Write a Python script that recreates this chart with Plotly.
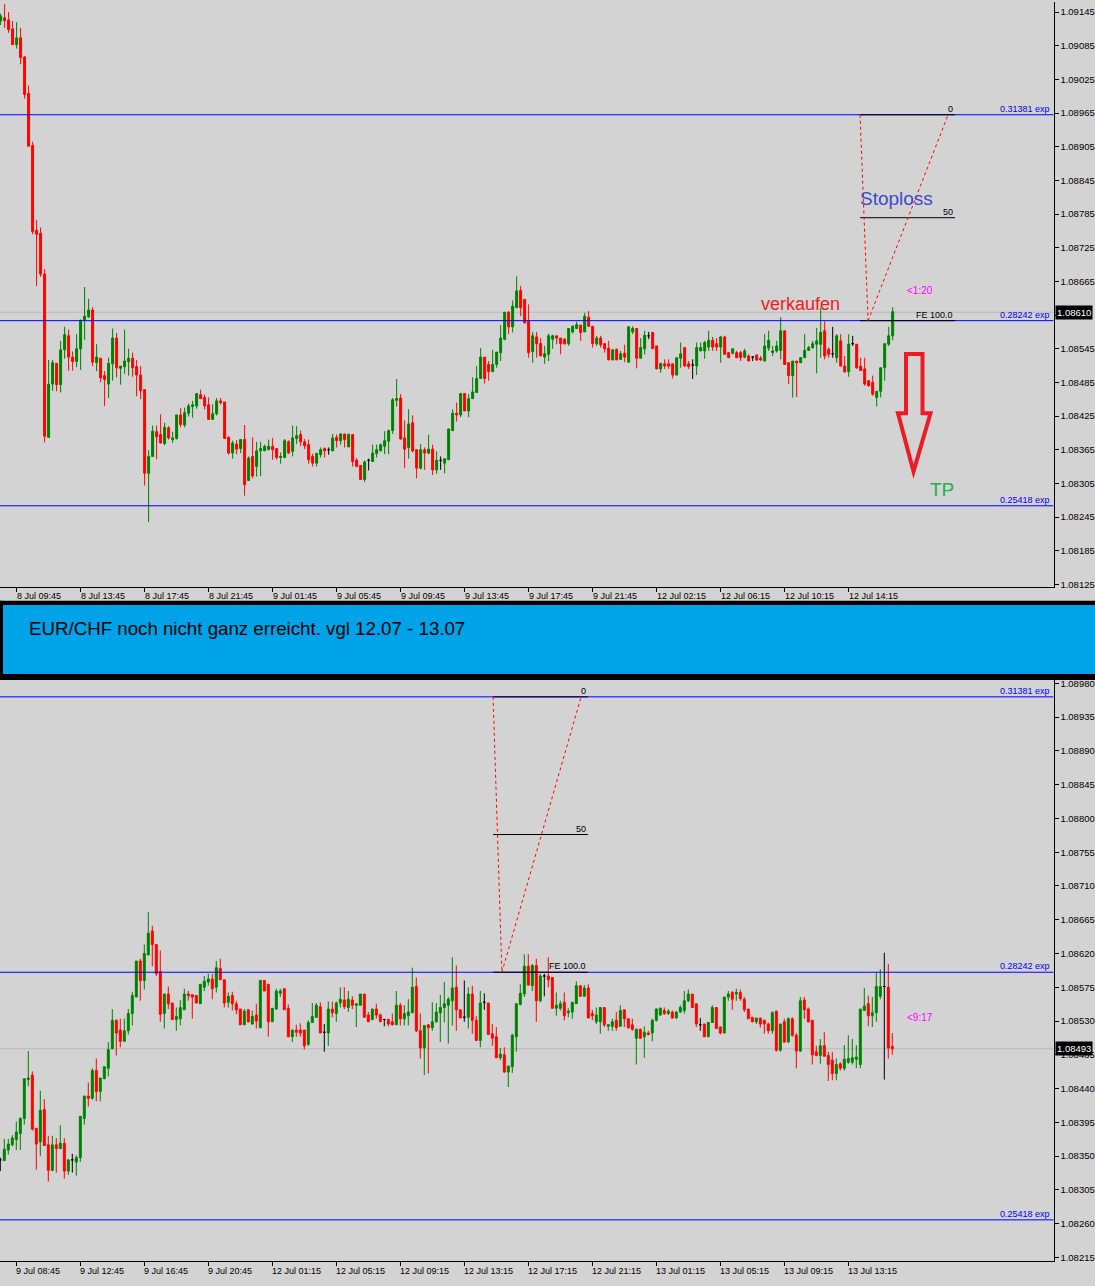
import plotly.graph_objects as go

W, H = 1095, 1286
BASE, PT = 1.08, 1e-5          # prices are stored in points (1e-5) above 1.08000
FONT = "Liberation Sans, Arial, sans-serif"

# ---------------- top chart: EUR/CHF M15 (8 Jul - 12 Jul) ----------------
TOP_OPEN = [
    1129, 1135, 1131, 1115, 1087, 1099, 1065, 1000, 907, 756, 751, 678, 387, 482, 519, 481,
    543, 568, 530, 522, 545, 596, 602, 614, 520, 528, 497, 482, 518, 564, 510, 513,
    522, 528, 513, 498, 472, 323, 353, 397, 392, 376, 404, 383, 385, 427, 409, 430,
    442, 443, 463, 458, 445, 419, 429, 452, 450, 387, 359, 375, 367, 383, 310, 353,
    335, 363, 363, 365, 371, 367, 351, 351, 379, 362, 385, 392, 379, 374, 353, 341,
    356, 367, 365, 363, 387, 381, 393, 370, 392, 346, 337, 312, 346, 344, 358, 363,
    371, 380, 399, 453, 457, 386, 369, 413, 365, 332, 365, 359, 366, 329, 346, 341,
    347, 399, 430, 427, 465, 434, 456, 467, 492, 530, 517, 504, 517, 538, 562, 610,
    584, 618, 649, 633, 594, 540, 566, 554, 530, 535, 562, 568, 564, 562, 554, 575,
    581, 587, 575, 601, 585, 554, 564, 554, 546, 525, 544, 526, 537, 521, 575, 581,
    528, 545, 568, 574, 550, 509, 518, 518, 518, 498, 528, 547, 518, 516, 514, 541,
    541, 548, 560, 554, 548, 566, 538, 537, 538, 538, 530, 532, 530, 534, 528, 523,
    546, 538, 541, 542, 577, 520, 497, 523, 520, 529, 542, 547, 553, 553, 577, 544,
    536, 529, 559, 514, 504, 554, 553, 514, 509, 488, 485, 458, 469, 511, 553, 568]
TOP_HIGH = [
    1142, 1159, 1145, 1129, 1127, 1117, 1067, 1014, 914, 774, 761, 687, 525, 525, 519, 559,
    584, 579, 540, 571, 596, 655, 634, 619, 553, 528, 505, 529, 581, 573, 514, 579,
    545, 538, 525, 514, 472, 364, 408, 408, 428, 413, 407, 397, 427, 439, 440, 447,
    452, 465, 472, 463, 458, 446, 457, 457, 450, 389, 381, 382, 383, 409, 353, 387,
    379, 379, 374, 383, 386, 367, 360, 384, 382, 408, 407, 399, 384, 383, 358, 360,
    369, 369, 369, 393, 392, 394, 393, 394, 392, 350, 337, 346, 349, 374, 374, 376,
    398, 401, 457, 491, 464, 417, 437, 426, 365, 375, 369, 392, 374, 362, 353, 349,
    402, 437, 449, 465, 465, 464, 494, 514, 546, 530, 523, 543, 539, 587, 610, 612,
    631, 674, 657, 633, 624, 575, 575, 564, 550, 572, 570, 568, 564, 564, 581, 587,
    593, 587, 609, 612, 585, 568, 568, 554, 559, 544, 545, 541, 552, 585, 585, 581,
    564, 577, 575, 575, 550, 519, 526, 526, 518, 530, 556, 547, 523, 526, 556, 556,
    559, 577, 566, 564, 568, 568, 538, 545, 541, 541, 545, 535, 532, 534, 532, 571,
    577, 550, 559, 601, 577, 520, 523, 523, 530, 571, 550, 559, 582, 618, 594, 547,
    584, 571, 571, 532, 571, 568, 553, 529, 529, 488, 497, 469, 511, 554, 584, 619]
TOP_LOW = [
    1122, 1117, 1108, 1087, 1080, 1052, 991, 906, 749, 657, 673, 378, 387, 470, 469, 467,
    527, 506, 506, 512, 507, 561, 600, 514, 505, 485, 443, 457, 488, 494, 481, 500,
    497, 495, 460, 455, 301, 236, 352, 348, 376, 373, 383, 377, 383, 405, 405, 424,
    422, 438, 456, 437, 419, 418, 426, 446, 384, 356, 349, 357, 359, 283, 310, 314,
    317, 318, 363, 365, 347, 347, 340, 351, 357, 353, 375, 371, 366, 340, 335, 335,
    351, 351, 356, 362, 369, 374, 369, 370, 335, 335, 312, 307, 328, 344, 351, 362,
    357, 357, 393, 442, 383, 332, 349, 360, 314, 330, 329, 357, 320, 322, 329, 323,
    347, 399, 415, 423, 434, 423, 456, 467, 492, 483, 488, 504, 511, 523, 560, 571,
    574, 618, 603, 591, 529, 520, 529, 532, 518, 523, 545, 553, 535, 552, 550, 572,
    580, 559, 575, 585, 547, 550, 547, 538, 525, 525, 525, 525, 521, 521, 571, 510,
    528, 535, 562, 545, 509, 502, 509, 509, 492, 498, 511, 513, 509, 491, 498, 541,
    527, 541, 541, 541, 520, 535, 529, 535, 529, 523, 528, 523, 523, 523, 523, 523,
    541, 532, 538, 526, 516, 482, 458, 459, 520, 528, 541, 545, 501, 529, 526, 529,
    529, 520, 514, 502, 495, 550, 509, 506, 479, 477, 461, 442, 458, 488, 550, 560]
TOP_CLOSE = [
    1138, 1130, 1114, 1087, 1099, 1064, 998, 906, 754, 749, 678, 389, 482, 520, 481, 543,
    570, 530, 522, 545, 596, 603, 614, 521, 530, 493, 490, 519, 564, 511, 514, 523,
    528, 511, 498, 470, 323, 353, 398, 388, 377, 405, 386, 386, 427, 410, 431, 443,
    445, 465, 456, 443, 419, 429, 452, 449, 385, 359, 377, 366, 383, 303, 350, 318,
    363, 367, 371, 371, 365, 351, 353, 381, 359, 386, 390, 379, 372, 347, 341, 358,
    365, 363, 365, 386, 381, 393, 383, 392, 344, 335, 312, 343, 346, 359, 365, 374,
    381, 399, 454, 456, 384, 366, 411, 363, 332, 365, 359, 366, 329, 346, 346, 349,
    402, 430, 427, 465, 434, 456, 468, 492, 530, 492, 504, 517, 539, 564, 610, 584,
    621, 648, 618, 591, 538, 568, 554, 532, 536, 568, 568, 564, 554, 554, 581, 585,
    588, 574, 603, 585, 554, 564, 552, 545, 525, 543, 525, 536, 530, 584, 581, 528,
    547, 569, 568, 545, 509, 519, 514, 514, 498, 529, 536, 514, 513, 516, 547, 547,
    556, 560, 548, 548, 566, 535, 529, 545, 529, 529, 541, 523, 530, 525, 525, 550,
    560, 541, 550, 577, 517, 497, 523, 520, 529, 542, 547, 554, 559, 574, 532, 535,
    536, 568, 514, 504, 553, 554, 511, 506, 482, 479, 464, 469, 511, 554, 568, 611]
TOP_TICK_IDX = [4, 20, 36, 52, 68, 84, 100, 116, 132, 148, 164, 180, 196, 212]
TOP_TICK_TEXT = ["8 Jul 09:45", "8 Jul 13:45", "8 Jul 17:45", "8 Jul 21:45", "9 Jul 01:45",
                 "9 Jul 05:45", "9 Jul 09:45", "9 Jul 13:45", "9 Jul 17:45", "9 Jul 21:45",
                 "12 Jul 02:15", "12 Jul 06:15", "12 Jul 10:15", "12 Jul 14:15"]
TOP_YTICKS = [1.09145, 1.09085, 1.09025, 1.08965, 1.08905, 1.08845, 1.08785, 1.08725,
              1.08665, 1.08605, 1.08545, 1.08485, 1.08425, 1.08365, 1.08305, 1.08245,
              1.08185, 1.08125]
TOP_LAST = 1.08610
TOP_FIB_T = [214.85, 216.85, 236.85]      # candle positions of the three expansion points
TOP_FIB_END = 238.6

# ---------------- bottom chart: EUR/CHF M15 (9 Jul - 13 Jul) ----------------
BOT_OPEN = [
    345, 344, 358, 365, 372, 380, 400, 452, 458, 387, 369, 412, 365, 331, 365, 360,
    367, 330, 345, 342, 348, 400, 430, 427, 464, 436, 453, 467, 493, 531, 518, 503,
    517, 540, 562, 610, 584, 618, 650, 632, 596, 540, 566, 554, 532, 533, 545, 566,
    565, 564, 553, 575, 582, 586, 575, 600, 585, 555, 564, 553, 546, 525, 545, 526,
    538, 521, 584, 579, 529, 546, 567, 573, 547, 509, 518, 518, 518, 499, 528, 535,
    549, 515, 514, 546, 540, 554, 558, 548, 558, 551, 551, 566, 538, 532, 546, 538,
    532, 532, 529, 525, 551, 533, 537, 541, 576, 517, 494, 525, 521, 529, 541, 548,
    551, 557, 575, 545, 535, 535, 566, 531, 504, 555, 554, 513, 509, 481, 485, 462,
    469, 509, 552, 566, 603, 577, 604, 557, 590, 590, 588, 547, 547, 555, 541, 542,
    553, 577, 563, 574, 540, 529, 529, 548, 523, 523, 531, 523, 545, 533, 525, 507,
    519, 509, 514, 514, 531, 538, 544, 540, 542, 534, 542, 544, 557, 566, 553, 525,
    526, 509, 528, 548, 522, 514, 562, 568, 566, 568, 559, 546, 535, 529, 534, 531,
    526, 517, 543, 491, 529, 502, 533, 511, 490, 558, 546, 531, 489, 484, 497, 484,
    478, 460, 473, 467, 475, 475, 479, 472, 544, 553, 537, 541, 563, 576, 575, 496]
BOT_HIGH = [
    348, 373, 373, 378, 396, 402, 454, 490, 463, 387, 437, 426, 377, 377, 374, 391,
    374, 345, 353, 351, 403, 430, 448, 467, 480, 454, 469, 502, 546, 532, 533, 533,
    546, 569, 610, 613, 632, 675, 657, 632, 624, 566, 576, 554, 548, 558, 573, 570,
    565, 564, 579, 590, 593, 593, 610, 613, 585, 568, 569, 557, 546, 546, 546, 544,
    553, 585, 584, 579, 547, 573, 573, 574, 552, 518, 525, 527, 518, 531, 554, 554,
    555, 526, 556, 556, 556, 575, 575, 570, 563, 553, 566, 566, 542, 546, 553, 540,
    533, 533, 540, 570, 554, 551, 559, 601, 588, 540, 524, 525, 555, 554, 565, 582,
    562, 615, 604, 545, 584, 575, 577, 537, 570, 567, 554, 526, 522, 494, 495, 470,
    513, 553, 579, 619, 619, 606, 613, 593, 593, 615, 588, 568, 557, 568, 547, 555,
    583, 578, 578, 579, 545, 548, 548, 548, 526, 533, 542, 551, 545, 533, 533, 520,
    520, 523, 517, 533, 547, 548, 548, 546, 544, 543, 551, 570, 572, 566, 553, 534,
    526, 528, 551, 548, 523, 562, 570, 570, 573, 572, 562, 546, 535, 534, 534, 531,
    528, 543, 544, 526, 533, 535, 535, 514, 562, 562, 548, 531, 497, 506, 515, 489,
    489, 480, 475, 498, 511, 506, 498, 546, 574, 564, 562, 595, 599, 621, 606, 514]
BOT_LOW = [
    330, 344, 352, 363, 358, 358, 392, 443, 384, 332, 350, 364, 316, 330, 328, 360,
    320, 325, 328, 324, 342, 392, 416, 425, 423, 423, 453, 456, 493, 484, 495, 503,
    512, 524, 562, 557, 572, 618, 603, 590, 529, 520, 546, 531, 517, 524, 545, 557,
    533, 554, 553, 570, 577, 559, 568, 585, 548, 548, 544, 539, 525, 525, 528, 525,
    520, 521, 570, 509, 529, 545, 562, 545, 509, 502, 509, 509, 492, 497, 528, 535,
    514, 489, 497, 535, 529, 548, 546, 542, 546, 522, 551, 535, 529, 531, 533, 529,
    523, 523, 524, 525, 524, 524, 524, 541, 515, 480, 458, 460, 517, 528, 502, 528,
    500, 524, 517, 534, 529, 520, 513, 504, 495, 545, 512, 497, 481, 478, 461, 442,
    461, 489, 551, 562, 577, 570, 529, 555, 563, 575, 546, 537, 544, 531, 535, 533,
    553, 562, 563, 534, 531, 526, 513, 522, 517, 517, 517, 523, 522, 520, 517, 472,
    506, 481, 511, 503, 529, 537, 538, 538, 533, 533, 541, 540, 555, 548, 522, 517,
    509, 509, 528, 520, 512, 514, 557, 545, 557, 557, 542, 533, 528, 526, 521, 513,
    513, 513, 489, 489, 501, 501, 509, 467, 489, 533, 528, 472, 483, 473, 483, 450,
    451, 451, 464, 464, 473, 472, 467, 467, 544, 523, 522, 529, 559, 452, 480, 485]
BOT_CLOSE = [
    345, 359, 366, 374, 382, 400, 453, 454, 386, 366, 411, 364, 331, 365, 360, 367,
    330, 345, 345, 348, 403, 430, 427, 464, 436, 454, 469, 492, 531, 514, 503, 517,
    540, 564, 610, 584, 620, 647, 632, 593, 539, 566, 553, 532, 536, 548, 566, 564,
    562, 554, 579, 583, 586, 573, 601, 585, 554, 563, 553, 545, 525, 543, 529, 536,
    530, 584, 570, 529, 547, 570, 570, 545, 509, 518, 515, 514, 497, 528, 536, 551,
    514, 515, 546, 541, 554, 559, 549, 559, 551, 553, 566, 535, 529, 546, 538, 529,
    532, 526, 525, 551, 533, 540, 542, 575, 517, 494, 524, 521, 529, 542, 548, 553,
    559, 574, 545, 534, 535, 566, 531, 504, 554, 555, 512, 507, 481, 486, 462, 470,
    511, 553, 567, 603, 578, 604, 557, 590, 590, 585, 547, 551, 553, 537, 543, 555,
    577, 563, 574, 534, 537, 538, 548, 525, 525, 529, 521, 544, 533, 521, 519, 519,
    507, 515, 512, 531, 546, 547, 540, 543, 534, 542, 548, 557, 566, 548, 526, 525,
    509, 528, 548, 520, 514, 562, 566, 559, 568, 560, 545, 533, 529, 534, 526, 526,
    517, 541, 491, 526, 502, 533, 511, 490, 557, 545, 529, 485, 484, 497, 483, 472,
    460, 472, 467, 479, 480, 481, 482, 546, 550, 537, 541, 576, 576, 576, 494, 493]
BOT_TICK_IDX = [4, 20, 36, 52, 68, 84, 100, 116, 132, 148, 164, 180, 196, 212]
BOT_TICK_TEXT = ["9 Jul 08:45", "9 Jul 12:45", "9 Jul 16:45", "9 Jul 20:45", "12 Jul 01:15",
                 "12 Jul 05:15", "12 Jul 09:15", "12 Jul 13:15", "12 Jul 17:15", "12 Jul 21:15",
                 "13 Jul 01:15", "13 Jul 05:15", "13 Jul 09:15", "13 Jul 13:15"]
BOT_YTICKS = [1.08980, 1.08935, 1.08890, 1.08845, 1.08800, 1.08755, 1.08710, 1.08665,
              1.08620, 1.08575, 1.08530, 1.08485, 1.08440, 1.08395, 1.08350, 1.08305,
              1.08260, 1.08215]
BOT_LAST = 1.08493
BOT_FIB_T = [123.2, 125.4, 145.2]
BOT_FIB_END = 146.9

# shared horizontal levels and fibo expansion levels
LEVELS = [1.08962, 1.08595, 1.08265]
LEVEL_NAMES = ["0.31381 exp", "0.28242 exp", "0.25418 exp"]
FIB_LEVELS = [1.08962, 1.087785, 1.08595]
FIB_NAMES = ["0", "50", "FE 100.0"]

for arr in (TOP_OPEN, TOP_HIGH, TOP_LOW, TOP_CLOSE, BOT_OPEN, BOT_HIGH, BOT_LOW, BOT_CLOSE):
    assert len(arr) == 224, len(arr)


def price(v):
    return round(BASE + v * PT, 5)


def px(x):
    return x / W


def py(y):
    return 1 - y / H


def tick_labels(ticks, last):
    # the tick label that sits under the current-price box is hidden by it in MT4
    return ["" if abs(v - last) < 0.00006 else f"{v:.5f}" for v in ticks]


fig = go.Figure()


def add_candles(o, h, l, c, xa, ya):
    groups = {"up": [], "down": [], "doji": []}
    for i in range(len(o)):
        key = "up" if c[i] > o[i] else ("down" if c[i] < o[i] else "doji")
        groups[key].append(i)
    colors = {"up": "#008000", "down": "#ff0000", "doji": "#000000"}
    for key, idx in groups.items():
        col = colors[key]
        fig.add_trace(go.Candlestick(
            x=idx,
            open=[price(o[i]) for i in idx], high=[price(h[i]) for i in idx],
            low=[price(l[i]) for i in idx], close=[price(c[i]) for i in idx],
            increasing=dict(line=dict(color=col, width=1), fillcolor=col),
            decreasing=dict(line=dict(color=col, width=1), fillcolor=col),
            whiskerwidth=0, xaxis=xa, yaxis=ya, showlegend=False, hoverinfo="skip"))


add_candles(TOP_OPEN, TOP_HIGH, TOP_LOW, TOP_CLOSE, "x", "y")
add_candles(BOT_OPEN, BOT_HIGH, BOT_LOW, BOT_CLOSE, "x2", "y2")

shapes = []
annotations = []


def panel_decor(xa, ya, last, fib_t, fib_end):
    xd = xa + " domain"
    # current price line (grey, behind candles)
    shapes.append(dict(type="line", xref=xd, yref=ya, x0=0, x1=1, y0=last, y1=last,
                       line=dict(color="#b9b9b9", width=1), layer="below"))
    for lv, name in zip(LEVELS, LEVEL_NAMES):
        shapes.append(dict(type="line", xref=xd, yref=ya, x0=0, x1=1, y0=lv, y1=lv,
                           line=dict(color="#0000ff", width=1)))
        annotations.append(dict(text=name, xref=xd, yref=ya, x=0.9985, y=lv,
                                xanchor="right", yanchor="middle", yshift=6, showarrow=False,
                                font=dict(family=FONT, size=9, color="#0000ff")))
    for lv, name in zip(FIB_LEVELS, FIB_NAMES):
        shapes.append(dict(type="line", xref=xa, yref=ya, x0=fib_t[0], x1=fib_end, y0=lv, y1=lv,
                           line=dict(color="#000000", width=1)))
        annotations.append(dict(text=name, xref=xa, yref=ya, x=fib_end, y=lv,
                                xanchor="right", yanchor="middle", yshift=6, xshift=0,
                                showarrow=False, font=dict(family=FONT, size=9, color="#000000")))
    # dotted red zig-zag of the expansion tool
    pts = [(fib_t[0], FIB_LEVELS[0]), (fib_t[1], FIB_LEVELS[2]), (fib_t[2], FIB_LEVELS[0])]
    for (xa0, ya0), (xa1, ya1) in zip(pts[:-1], pts[1:]):
        shapes.append(dict(type="line", xref=xa, yref=ya, x0=xa0, x1=xa1, y0=ya0, y1=ya1,
                           line=dict(color="#ff0000", width=1, dash="dot")))
    # current price box
    annotations.append(dict(text=f"{last:.5f}", xref="paper", yref=ya, x=px(1055), y=last,
                            xanchor="left", yanchor="middle", showarrow=False,
                            bgcolor="#000000", borderpad=1,
                            font=dict(family=FONT, size=9.5, color="#ffffff")))


panel_decor("x", "y", TOP_LAST, TOP_FIB_T, TOP_FIB_END)
panel_decor("x2", "y2", BOT_LAST, BOT_FIB_T, BOT_FIB_END)

# time labels (left aligned at their tick, MT4 style)
for idx, txt in zip(TOP_TICK_IDX, TOP_TICK_TEXT):
    annotations.append(dict(text=txt, xref="x", yref="paper", x=idx, y=py(596),
                            xanchor="left", yanchor="middle", xshift=-2, showarrow=False,
                            font=dict(family=FONT, size=9, color="#000000")))
for idx, txt in zip(BOT_TICK_IDX, BOT_TICK_TEXT):
    annotations.append(dict(text=txt, xref="x2", yref="paper", x=idx, y=py(1272.5),
                            xanchor="left", yanchor="middle", xshift=-2, showarrow=False,
                            font=dict(family=FONT, size=9, color="#000000")))

# banner between the charts
shapes += [
    dict(type="rect", xref="paper", yref="paper", x0=0, x1=1, y0=py(605), y1=py(600.7),
         fillcolor="#000000", line=dict(width=0)),
    dict(type="rect", xref="paper", yref="paper", x0=0, x1=1, y0=py(674), y1=py(605),
         fillcolor="#00a2e8", line=dict(width=0)),
    dict(type="rect", xref="paper", yref="paper", x0=0, x1=1, y0=py(680), y1=py(674),
         fillcolor="#000000", line=dict(width=0)),
    dict(type="rect", xref="paper", yref="paper", x0=0, x1=px(3), y0=py(680), y1=py(600.7),
         fillcolor="#000000", line=dict(width=0)),
]
annotations.append(dict(text="EUR/CHF noch nicht ganz erreicht. vgl 12.07 - 13.07",
                        xref="paper", yref="paper", x=px(27), y=py(628.5), xanchor="left",
                        yanchor="middle", showarrow=False,
                        font=dict(family=FONT, size=18.7, color="#000000")))

# hand-drawn notes on the top chart
notes = [
    ("Stoploss", 858, 197, 19, "#3f48cc"),
    ("verkaufen", 759, 303, 18, "#ed1c24"),
    ("<1:20", 905, 289.5, 10, "#ff00ff"),
    ("TP", 928, 489.5, 19, "#22b14c"),
    ("<9:17", 905, 1019, 10, "#ff00ff"),
]
for txt, x, y, s, col in notes:
    annotations.append(dict(text=txt, xref="paper", yref="paper", x=px(x), y=py(y),
                            xanchor="left", yanchor="middle", showarrow=False,
                            font=dict(family=FONT, size=s, color=col)))

# red outlined down arrow
arrow_pts = [(906, 353), (922.5, 353), (922.5, 412.5), (930.5, 412.5), (913.5, 471),
             (898, 412.5), (906, 412.5)]
path = "M " + " L ".join(f"{px(x):.5f},{py(y):.5f}" for x, y in arrow_pts) + " Z"
shapes.append(dict(type="path", xref="paper", yref="paper", path=path,
                   line=dict(color="#ed1c24", width=4), fillcolor="rgba(0,0,0,0)"))

XDOM = [0, 1053.5 / W]
axis_common = dict(showgrid=False, zeroline=False, showline=True, linecolor="#000000",
                   linewidth=1, ticks="outside", ticklen=4, tickcolor="#000000",
                   tickwidth=1, fixedrange=True)

fig.update_layout(
    width=W, height=H,
    margin=dict(l=0, r=0, t=0, b=0, pad=0),
    paper_bgcolor="#d3d3d3", plot_bgcolor="#d3d3d3",
    showlegend=False,
    xaxis=dict(domain=XDOM, range=[-0.15, 263.2], anchor="y", tickvals=TOP_TICK_IDX,
               showticklabels=False, rangeslider=dict(visible=False), **axis_common),
    yaxis=dict(domain=[1 - 587.3 / H, 1], range=[1.081194, 1.09163], anchor="x", side="right",
               tickvals=TOP_YTICKS, ticktext=tick_labels(TOP_YTICKS, TOP_LAST),
               tickfont=dict(family=FONT, size=9.5, color="#000000"), **axis_common),
    xaxis2=dict(domain=XDOM, range=[-0.075, 263.3], anchor="y2", tickvals=BOT_TICK_IDX,
                showticklabels=False, rangeslider=dict(visible=False), **axis_common),
    yaxis2=dict(domain=[1 - 1263.3 / H, 1 - 680 / H], range=[1.082097, 1.089846], anchor="x2",
                side="right", tickvals=BOT_YTICKS, ticktext=[f"{v:.5f}" for v in BOT_YTICKS],
                tickfont=dict(family=FONT, size=9.5, color="#000000"), **axis_common),
    shapes=shapes,
    annotations=annotations,
)

fig.write_html(
    "out.html",
    config={"displayModeBar": False, "staticPlot": True},
    post_script="document.body.style.margin='0px';document.body.style.overflow='hidden';"
                "document.documentElement.style.overflow='hidden';",
)
